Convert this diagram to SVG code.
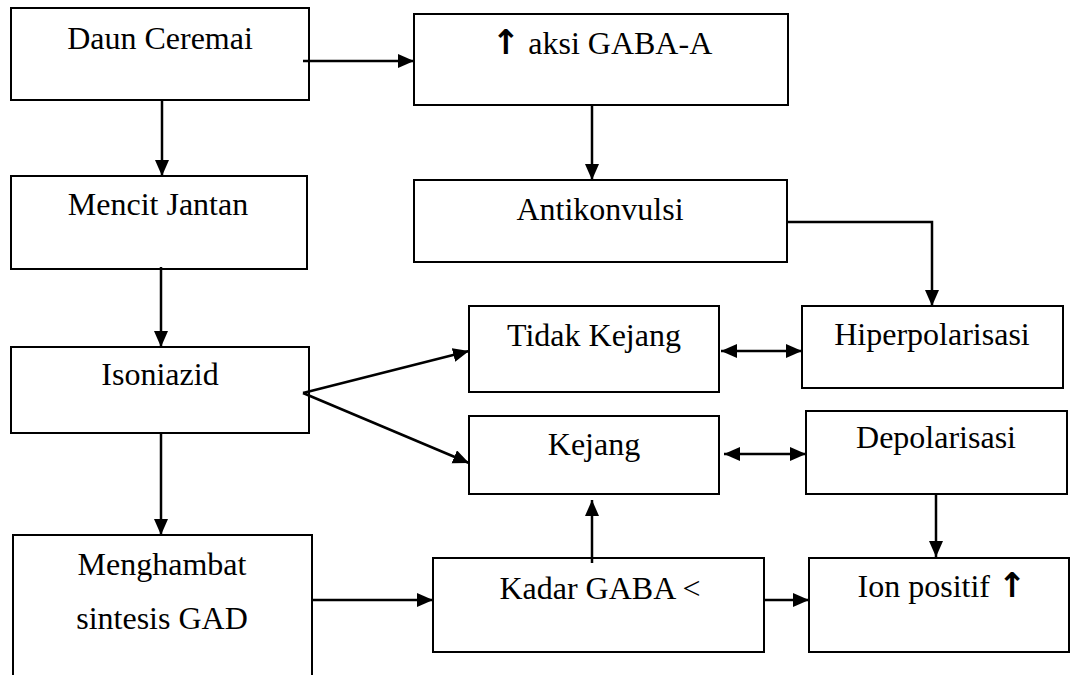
<svg xmlns="http://www.w3.org/2000/svg" width="1071" height="675" viewBox="0 0 1071 675">
<style>
.box{fill:#fff;stroke:#000;stroke-width:2}
.t{font-family:"Liberation Serif","Times New Roman",serif;font-size:32px;fill:#000;text-anchor:middle}
.ar{font-family:"DejaVu Sans",sans-serif;font-size:34px;font-weight:bold}
.c{fill:none;stroke:#000;stroke-width:2.5}
</style>
<defs>
<marker id="ah" markerUnits="userSpaceOnUse" markerWidth="17" markerHeight="15" refX="16" refY="7" orient="auto-start-reverse">
<path d="M0,0 L16,7 L0,14 z" fill="#000"/>
</marker>
</defs>
<rect width="1071" height="675" fill="#fff"/>
<g id="daun"><rect class="box" x="11" y="8" width="298" height="92"/><text class="t" x="160" y="49">Daun Ceremai</text></g>
<g id="aksi"><rect class="box" x="414" y="14" width="374" height="91"/><text class="t" x="602" y="54"><tspan class="ar">↑</tspan> aksi GABA-A</text></g>
<g id="mencit"><rect class="box" x="11" y="176" width="296" height="93"/><text class="t" x="158" y="215">Mencit Jantan</text></g>
<g id="antikonvulsi"><rect class="box" x="414" y="180" width="373" height="82"/><text class="t" x="600" y="220">Antikonvulsi</text></g>
<g id="isoniazid"><rect class="box" x="11" y="347" width="298" height="86"/><text class="t" x="160" y="385">Isoniazid</text></g>
<g id="tidakkejang"><rect class="box" x="469" y="306" width="250" height="86"/><text class="t" x="594" y="346">Tidak Kejang</text></g>
<g id="hiperpolarisasi"><rect class="box" x="802" y="306" width="261" height="82"/><text class="t" x="932" y="345">Hiperpolarisasi</text></g>
<g id="kejang"><rect class="box" x="469" y="416" width="250" height="78"/><text class="t" x="594" y="455">Kejang</text></g>
<g id="depolarisasi"><rect class="box" x="806" y="411" width="261" height="83"/><text class="t" x="936" y="448">Depolarisasi</text></g>
<g id="menghambat"><path class="box" d="M13,677 V535 H312 V677"/><text class="t" x="162" y="575">Menghambat</text><text class="t" x="162" y="629">sintesis GAD</text></g>
<g id="kadar"><rect class="box" x="433" y="558" width="331" height="94"/><text class="t" x="600" y="599">Kadar GABA &lt;</text></g>
<g id="ion"><rect class="box" x="809" y="558" width="260" height="94"/><text class="t" x="942" y="597">Ion positif <tspan class="ar">↑</tspan></text></g>
<g id="connectors">
<path class="c" d="M303,61 H414" marker-end="url(#ah)"/>
<path class="c" d="M162,100 V176" marker-end="url(#ah)"/>
<path class="c" d="M592,105 V180" marker-end="url(#ah)"/>
<path class="c" d="M787,222 H932 V306" marker-end="url(#ah)"/>
<path class="c" d="M161,267 V347" marker-end="url(#ah)"/>
<path class="c" d="M303,393 L469,351" marker-end="url(#ah)"/>
<path class="c" d="M303,393 L469,463" marker-end="url(#ah)"/>
<path class="c" d="M721,351 H802" marker-start="url(#ah)" marker-end="url(#ah)"/>
<path class="c" d="M724,454 H806" marker-start="url(#ah)" marker-end="url(#ah)"/>
<path class="c" d="M161,433 V535" marker-end="url(#ah)"/>
<path class="c" d="M312,600 H433" marker-end="url(#ah)"/>
<path class="c" d="M592,563 V500" marker-end="url(#ah)"/>
<path class="c" d="M764,600 H809" marker-end="url(#ah)"/>
<path class="c" d="M936,494 V557" marker-end="url(#ah)"/>
</g>
</svg>
